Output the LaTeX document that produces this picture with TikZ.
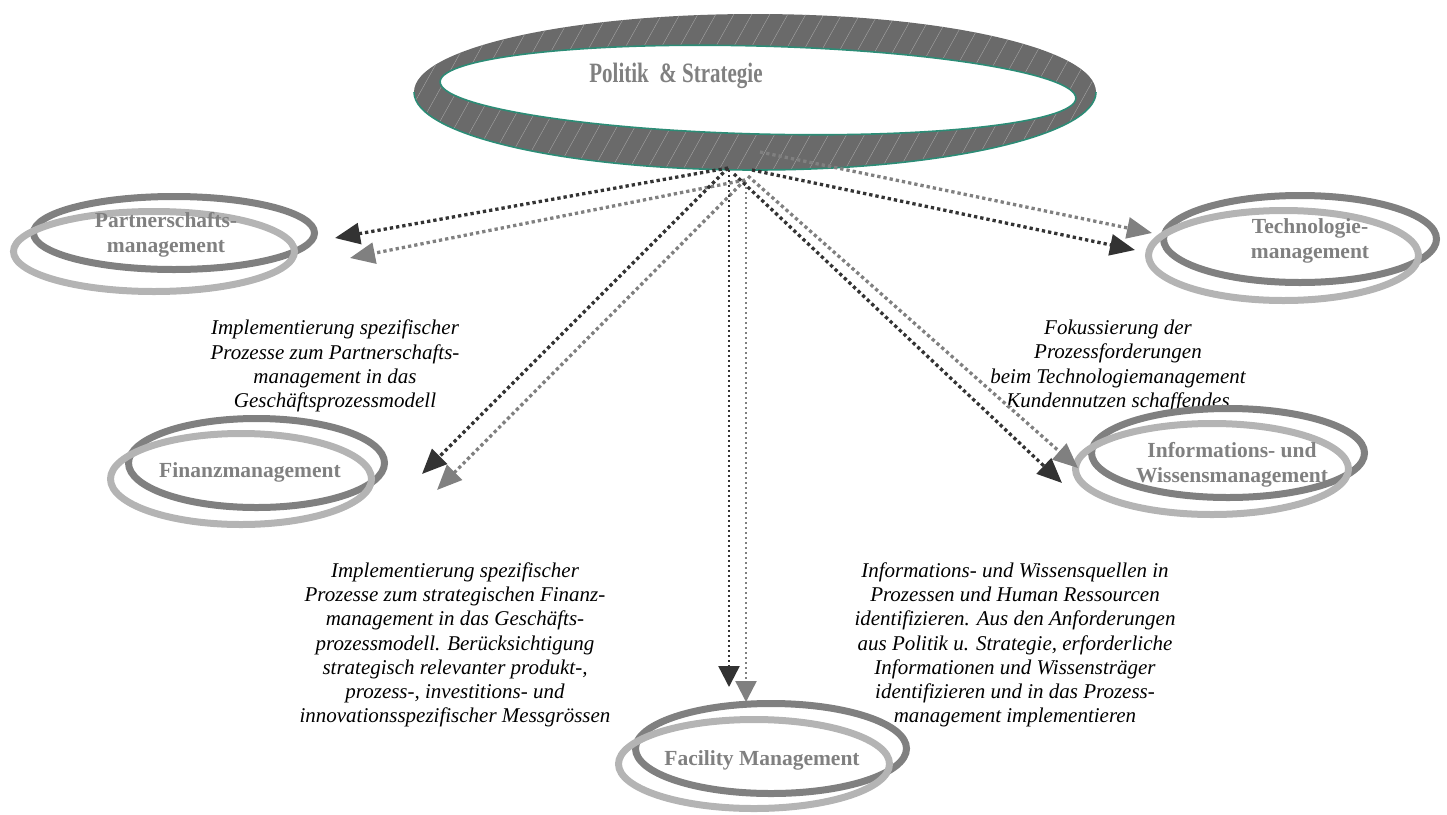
\documentclass[tikz,border=0pt]{standalone}
\usepackage{fontspec}
\setmainfont{Liberation Serif}
\usetikzlibrary{arrows.meta,shapes.geometric}
\definecolor{bandgray}{RGB}{106,106,106}
\definecolor{hatchgray}{RGB}{165,165,165}
\definecolor{rimteal}{RGB}{44,140,118}
\definecolor{ringD}{RGB}{128,128,128}
\definecolor{ringL}{RGB}{180,180,180}
\definecolor{labelgray}{RGB}{128,128,128}
\definecolor{arrD}{RGB}{51,51,51}
\definecolor{arrG}{RGB}{128,128,128}

\begin{document}
\begin{tikzpicture}[x=1pt,y=-1pt,
  ringdark/.style={ellipse, draw=ringD, line width=7pt, inner sep=0pt},
  ringlight/.style={ellipse, draw=ringL, line width=7pt, inner sep=0pt},
  unitlabel/.style={text=labelgray, font=\fontsize{21.5}{25}\selectfont\bfseries, align=center, inner sep=0pt},
  note/.style={font=\fontsize{21}{24.2}\selectfont\itshape, align=center, inner sep=0pt},
  darklink/.style={draw=arrD, line width=3.3pt, dash pattern=on 3.3pt off 3pt, -{Triangle[length=25pt,width=21pt]}},
  graylink/.style={draw=arrG, line width=3.3pt, dash pattern=on 3.3pt off 3pt, -{Triangle[length=25pt,width=21pt]}},
  darkdrop/.style={draw=arrD, line width=2.4pt, dash pattern=on 2.4pt off 2.6pt, -{Triangle[length=21pt,width=21pt]}},
  graydrop/.style={draw=arrG, line width=2.4pt, dash pattern=on 2.4pt off 2.6pt, -{Triangle[length=21pt,width=21pt]}},
  hatch/.style={draw=hatchgray, line width=0.4pt}
]
\useasboundingbox (0,0) rectangle (1447,814);

% ---- twisted ring: Politik & Strategie ----
\fill[bandgray] (755,92) ellipse [x radius=341, y radius=78];
\begin{scope}
  \clip (755,92) ellipse [x radius=341, y radius=78];
  \foreach \k in {0,...,46} \draw[hatch] ({320+\k*18},175) -- ++(95,-170);
\end{scope}
\draw[rimteal, line width=1.6pt] (414,92) arc[start angle=180, end angle=0, x radius=341, y radius=78];
\filldraw[fill=white, draw=rimteal, line width=1.6pt, rotate around={-1.5:(758,90)}] (758,90) ellipse [x radius=318, y radius=44];
\node[text=labelgray, font=\fontsize{28}{32}\selectfont\bfseries, inner sep=0pt] (politik) at (676,76) {\scalebox{0.75}[1]{Politik\ \ \&\ Strategie}};

% ---- double rings of the management fields ----
\node[ringdark, minimum width=281pt, minimum height=73pt] (partnerD) at (174,233) {};
\node[ringlight, minimum width=281pt, minimum height=80pt] (partnerL) at (154,251.5) {};
\node[unitlabel] (partner) at (166,235) {Partnerschafts-\\management};

\node[ringdark, minimum width=273pt, minimum height=87pt] (techD) at (1300,239) {};
\node[ringlight, minimum width=270pt, minimum height=90pt] (techL) at (1283.5,255.5) {};
\node[unitlabel] (tech) at (1310,241) {Technologie-\\management};

\node[ringdark, minimum width=256pt, minimum height=89pt] (finD) at (256.5,463) {};
\node[ringlight, minimum width=261pt, minimum height=91pt] (finL) at (241,479) {};
\node[unitlabel] (fin) at (250,472) {Finanzmanagement};

% ---- explanatory notes ----
\node[note] (notePartner) at (335,366) {Implementierung spezifischer\\Prozesse zum Partnerschafts-\\management in das\\Geschäftsprozessmodell};
\node[note] (noteTech) at (1118,366) {Fokussierung der\\Prozessforderungen\\beim Technologiemanagement\\Kundennutzen schaffendes};
\node[note] (noteFin) at (455,645) {Implementierung spezifischer\\Prozesse zum strategischen Finanz-\\management in das Geschäfts-\\prozessmodell. Berücksichtigung\\strategisch relevanter produkt-,\\prozess-, investitions- und\\innovationsspezifischer Messgrössen};
\node[note] (noteInfo) at (1015,645) {Informations- und Wissensquellen in\\Prozessen und Human Ressourcen\\identifizieren. Aus den Anforderungen\\aus Politik u. Strategie, erforderliche\\Informationen und Wissensträger\\identifizieren und in das Prozess-\\management implementieren};

\node[ringdark, minimum width=273pt, minimum height=89pt] (infoD) at (1228,453) {};
\node[ringlight, minimum width=273pt, minimum height=91pt] (infoL) at (1212,469) {};
\node[unitlabel] (info) at (1232,465) {Informations- und\\Wissensmanagement};

\node[ringdark, minimum width=271pt, minimum height=90pt] (facD) at (771,748.5) {};
\node[ringlight, minimum width=271pt, minimum height=89pt] (facL) at (754,764) {};
\node[unitlabel] (fac) at (762,760) {Facility Management};

% ---- link end points ----
\coordinate (srcD) at (728,168);
\coordinate (srcDr) at (752,170);
\coordinate (srcDi) at (734,174);
\coordinate (srcDv) at (729,170);
\coordinate (srcG) at (745,180);
\coordinate (srcGt) at (760,152);
\coordinate (srcGi) at (748,176);
\coordinate (srcGv) at (746,182);

\coordinate (tipPartnerD) at (335,238);
\coordinate (tipPartnerG) at (350,258);
\coordinate (tipFinD) at (422,474);
\coordinate (tipFinG) at (437,490);
\coordinate (tipFacD) at (729,687);
\coordinate (tipFacG) at (746,702);
\coordinate (tipInfoD) at (1062,483);
\coordinate (tipInfoG) at (1078,468);
\coordinate (tipTechD) at (1135,250);
\coordinate (tipTechG) at (1152,233);

% ---- links ----
\draw[graylink] (srcG) -- (tipPartnerG);
\draw[graylink] (srcG) -- (tipFinG);
\draw[graydrop] (srcGv) -- (tipFacG);
\draw[graylink] (srcGi) -- (tipInfoG);
\draw[graylink] (srcGt) -- (tipTechG);

\draw[darklink] (srcD) -- (tipPartnerD);
\draw[darklink] (srcD) -- (tipFinD);
\draw[darkdrop] (srcDv) -- (tipFacD);
\draw[darklink] (srcDi) -- (tipInfoD);
\draw[darklink] (srcDr) -- (tipTechD);
\end{tikzpicture}
\end{document}
